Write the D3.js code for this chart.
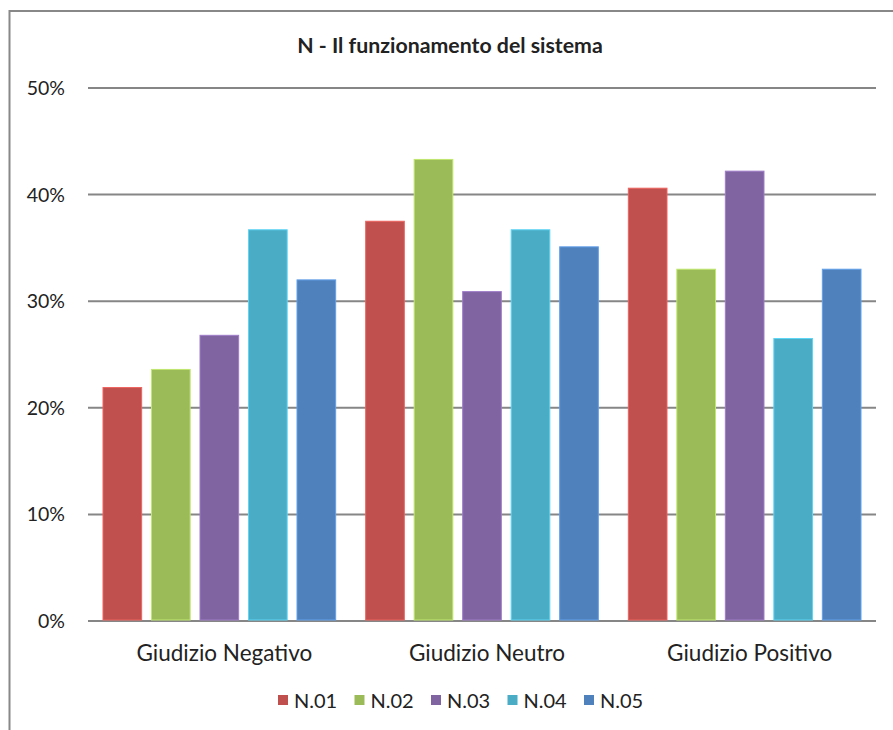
<!DOCTYPE html>
<html><head><meta charset="utf-8">
<script src="https://cdn.jsdelivr.net/npm/d3@7"></script>
<style>body{margin:0;background:#fff}svg{display:block}text{font-family:Lato,"Open Sans",sans-serif;fill:#222}</style>
</head><body><svg id="c" width="893" height="730"></svg>
<script>
const categories = ["Giudizio Negativo","Giudizio Neutro","Giudizio Positivo"];
const seriesNames = ["N.01","N.02","N.03","N.04","N.05"];
const seriesColors = ["#C0504D","#9BBB59","#8064A2","#4BACC6","#4F81BD"];
const N01 = [0.219,0.375,0.406];
const N02 = [0.236,0.433,0.330];
const N03 = [0.268,0.309,0.422];
const N04 = [0.367,0.367,0.265];
const N05 = [0.320,0.351,0.330];
const seriesValues = [N01,N02,N03,N04,N05];
const yTicks = [0,0.1,0.2,0.3,0.4,0.5];
const title = "N - Il funzionamento del sistema";

const svg = d3.select("#c");
// outer frame
svg.append("rect").attr("x",9.5).attr("y",11).attr("width",900).attr("height",740)
  .attr("fill","none").attr("stroke","#888").attr("stroke-width",2);

const L=88,R=876,T=88,B=621;
const y = d3.scaleLinear().domain([0,0.5]).range([B,T]);
const x0 = d3.scaleBand().domain(categories).range([L,R]).paddingInner(0).paddingOuter(0);
const x1 = d3.scaleBand().domain(seriesNames).range([15,x0.bandwidth()-15]).paddingInner(0.203).paddingOuter(0);

// gridlines
svg.append("g").selectAll("line").data(yTicks).join("line")
  .attr("x1",L).attr("x2",R).attr("y1",d=>y(d)).attr("y2",d=>y(d))
  .attr("stroke","#868686").attr("stroke-width",2);

// y labels
svg.append("g").selectAll("text").data(yTicks).join("text")
  .attr("x",65).attr("y",d=>y(d)+7).attr("text-anchor","end")
  .style("font-size","19.5px").text(d3.format(".0%"));

// bars
const g = svg.append("g");
categories.forEach((c,ci)=>{
  seriesNames.forEach((s,si)=>{
    const v = seriesValues[si][ci];
    g.append("rect")
      .attr("x",x0(c)+x1(s)).attr("width",x1.bandwidth())
      .attr("y",y(v)).attr("height",y(0)-y(v)-1)
      .attr("fill",seriesColors[si])
      .attr("stroke",d3.color(seriesColors[si]).brighter(0.6)).attr("stroke-width",1);
  });
});

// category labels
svg.append("g").selectAll("text").data(categories).join("text")
  .attr("x",d=>x0(d)+x0.bandwidth()/2+5).attr("y",661).attr("text-anchor","middle")
  .style("font-size","22.5px").text(d=>d);

// title
svg.append("text").attr("x",450).attr("y",53).attr("text-anchor","middle")
  .style("font-size","21.3px").style("font-weight","bold").text(title);

// legend
const lg = svg.append("g");
seriesNames.forEach((s,i)=>{
  const px = 278 + i*76.5;
  lg.append("rect").attr("x",px).attr("y",695).attr("width",10).attr("height",10).attr("fill",seriesColors[i]);
  lg.append("text").attr("x",px+16).attr("y",708).style("font-size","20px").text(s);
});
</script></body></html>
